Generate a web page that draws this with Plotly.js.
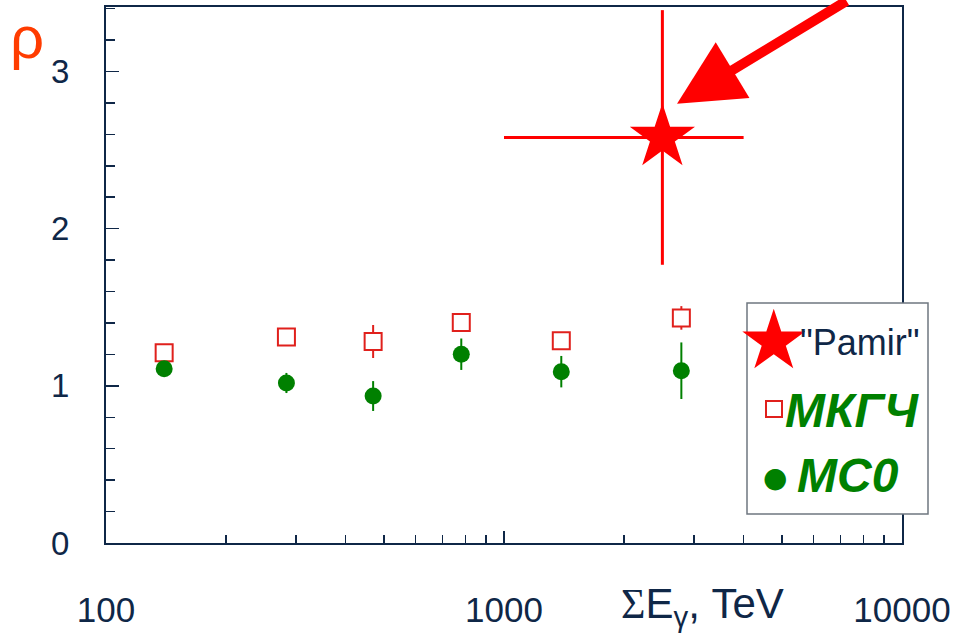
<!DOCTYPE html>
<html>
<head>
<meta charset="utf-8">
<script src="https://cdn.plot.ly/plotly-3.0.1.min.js"></script>
<style>html,body{margin:0;padding:0;background:#fff;}#chart{width:954px;height:635px;}</style>
</head>
<body>
<div id="chart"></div>
<script>
// ---- data ----
const energyTeV   = [140, 284, 469, 781, 1393, 2790];
const rhoMKGCH    = [1.211, 1.310, 1.282, 1.403, 1.286, 1.432];
const errMKGCH    = [0.03, 0.03, 0.105, 0.03, 0.03, 0.075];
const rhoMC0      = [1.108, 1.018, 0.935, 1.201, 1.090, 1.096];
const errMC0      = [0.04, 0.064, 0.095, 0.10, 0.10, 0.18];
const pamirE      = [2500];
const pamirEErr   = [1500];
const pamirRho    = [2.58];
const pamirRhoErr = [0.81];
const xTickVals   = [100, 1000, 10000];
const xTickText   = ['100', '1000', '10000'];
const xMinorVals  = [200,300,400,500,600,700,800,900,2000,3000,4000,5000,6000,7000,8000,9000];
const yTickVals   = [0, 1, 2, 3];
const seriesNames = ['"Pamir"', 'МКГЧ', 'MC0'];

const NAVY = '#0f2747';
const GREEN = '#008000';
const RED_SQ = '#e0201c';
const RED = '#ff0000';

// plot area in pixels
const L = 106, R = 902, T = 7, B = 543;
const fx = px => (px - L) / (R - L);
const fy = py => (B - py) / (B - T);

const traces = [
  {
    x: energyTeV, y: rhoMKGCH, type: 'scatter', mode: 'markers', name: seriesNames[1],
    marker: {symbol: 'square', size: 17, color: '#ffffff', line: {width: 2, color: RED_SQ}},
    error_y: {type: 'data', array: errMKGCH, color: RED_SQ, thickness: 2, width: 0},
    cliponaxis: false, showlegend: false
  },
  {
    x: energyTeV, y: rhoMC0, type: 'scatter', mode: 'markers', name: seriesNames[2],
    marker: {symbol: 'circle', size: 17, color: GREEN},
    error_y: {type: 'data', array: errMC0, color: GREEN, thickness: 2, width: 0},
    cliponaxis: false, showlegend: false
  },
  {
    x: pamirE, y: pamirRho, type: 'scatter', mode: 'markers', name: seriesNames[0],
    marker: {symbol: 'star', size: 49, color: RED},
    error_x: {type: 'data', array: pamirEErr, arrayminus: pamirEErr, color: RED, thickness: 3, width: 0},
    error_y: {type: 'data', array: pamirRhoErr, color: RED, thickness: 3, width: 0},
    cliponaxis: false, showlegend: false
  }
];

function note(px, py, text, font, extra) {
  return Object.assign({x: fx(px), y: fy(py), xref: 'paper', yref: 'paper', text: text,
    showarrow: false, xanchor: 'center', yanchor: 'middle', font: font}, extra || {});
}
const SANS = 'Liberation Sans, Arial, sans-serif';

const annotations = [
  // big arrow pointing at the Pamir point
  {x: Math.log10(2721), y: 2.794, xref: 'x', yref: 'y', text: '', showarrow: true,
   arrowhead: 2, arrowsize: 1.3, arrowwidth: 10, arrowcolor: RED, ax: 171, ay: -113, standoff: 0},
  // y-axis title rho
  note(27, 37, 'ρ', {family: SANS, size: 60, color: '#ff3c00'}),
  // x-axis title
  note(702, 606, '<span style="font-family:Liberation Serif">Σ</span>E<sub>γ</sub>, TeV', {family: SANS, size: 42, color: NAVY}),
  // legend keys + labels
  note(774, 340, '★', {family: 'DejaVu Sans', size: 82, color: RED}),
  note(860, 342, seriesNames[0], {family: SANS, size: 36, color: NAVY}),
  note(774, 409, ' ', {size: 8}, {width: 14, height: 14, borderpad: 0, borderwidth: 2, bordercolor: RED_SQ, bgcolor: '#fff'}),
  note(852, 410, '<b><i>' + seriesNames[1] + '</i></b>', {family: SANS, size: 48, color: GREEN}),
  note(775, 477, '●', {family: 'DejaVu Sans', size: 28, color: GREEN}),
  note(848, 475, '<b><i>' + seriesNames[2] + '</i></b>', {family: SANS, size: 48, color: GREEN})
];

const layout = {
  width: 954, height: 635,
  margin: {l: L, r: 954 - R, t: T, b: 635 - B, pad: 0},
  paper_bgcolor: '#ffffff', plot_bgcolor: '#ffffff',
  showlegend: false,
  font: {family: SANS, color: NAVY},
  xaxis: {
    type: 'log', range: [2, 4], tickmode: 'array', tickvals: xTickVals, ticktext: xTickText,
    ticks: 'inside', ticklen: 12, tickwidth: 1.5, tickcolor: NAVY,
    minor: {tickmode: 'array', tickvals: xMinorVals, ticks: 'inside', ticklen: 8, tickwidth: 1.5, tickcolor: NAVY},
    showline: true, linecolor: NAVY, linewidth: 2, mirror: true, showgrid: false, zeroline: false,
    tickfont: {size: 35, color: NAVY}, ticklabelstandoff: 35
  },
  yaxis: {
    range: [0, 3.41], tickmode: 'array', tickvals: yTickVals,
    ticks: 'inside', ticklen: 13, tickwidth: 1.5, tickcolor: NAVY,
    minor: {dtick: 0.2, tick0: 0, ticks: 'inside', ticklen: 9, tickwidth: 1.5, tickcolor: NAVY},
    showline: true, linecolor: NAVY, linewidth: 2, mirror: true, showgrid: false, zeroline: false,
    tickfont: {size: 33, color: NAVY}, ticklabelstandoff: 28
  },
  shapes: [
    {type: 'rect', xref: 'paper', yref: 'paper', x0: fx(747), x1: fx(928), y0: fy(514), y1: fy(303),
     line: {color: '#6f7780', width: 1.5}, fillcolor: '#ffffff', layer: 'above'}
  ],
  annotations: annotations
};

Plotly.newPlot('chart', traces, layout, {staticPlot: true});
</script>
</body>
</html>
